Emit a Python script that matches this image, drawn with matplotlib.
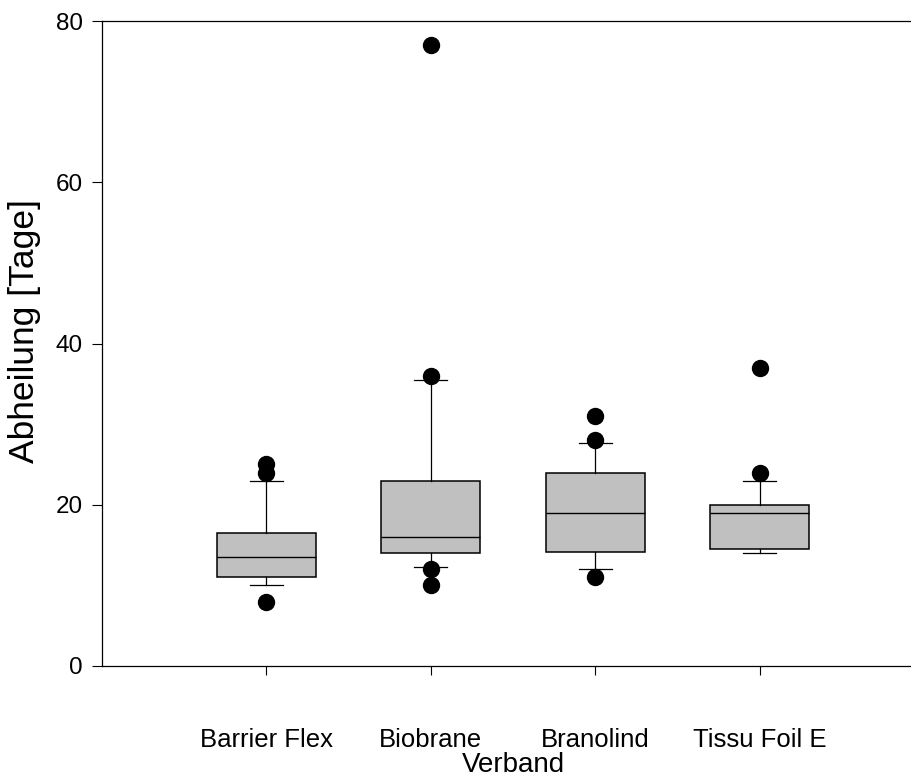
import matplotlib.pyplot as plt

plt.rcParams['font.family'] = ['Liberation Sans', 'DejaVu Sans']

# Box plot values (10th/90th percentile whiskers)
dressings = ["Barrier Flex", "Biobrane", "Branolind", "Tissu Foil E"]
whisker_low = [10.0, 12.3, 12.0, 14.0]
q1 = [11.0, 14.0, 14.2, 14.5]
medians = [13.5, 16.0, 19.0, 19.0]
q3 = [16.5, 23.0, 24.0, 20.0]
whisker_high = [23.0, 35.5, 27.6, 23.0]
outliers = [
    [25.0, 24.0, 8.0],
    [77.0, 36.0, 12.0, 10.0],
    [31.0, 28.0, 11.0],
    [37.0, 24.0],
]

stats = []
for i, name in enumerate(dressings):
    stats.append({
        "label": name,
        "whislo": whisker_low[i],
        "q1": q1[i],
        "med": medians[i],
        "q3": q3[i],
        "whishi": whisker_high[i],
        "fliers": outliers[i],
    })

fig = plt.figure(figsize=(9.12, 7.78), dpi=100)
ax = fig.add_axes([102 / 912, 1 - 666 / 778, 822 / 912, 645 / 778])

positions = [1, 2, 3, 4]
ax.bxp(
    stats,
    positions=positions,
    widths=0.6,
    capwidths=0.2,
    patch_artist=True,
    boxprops=dict(facecolor="#c0c0c0", edgecolor="black", linewidth=1.1),
    medianprops=dict(color="black", linewidth=1.0),
    whiskerprops=dict(color="black", linewidth=0.9),
    capprops=dict(color="black", linewidth=0.9),
    flierprops=dict(marker="o", markerfacecolor="black", markeredgecolor="black",
                    markersize=11.5, linestyle="none"),
)

ax.set_xlim(0, 5)
ax.set_ylim(0, 80)
ax.set_yticks([0, 20, 40, 60, 80])
ax.set_xticks(positions)
ax.set_xticklabels(dressings, fontsize=18.5)
ax.tick_params(axis="y", labelsize=17.5, length=7, width=0.8, pad=7, direction="out")
ax.tick_params(axis="x", length=6.5, width=0.8, pad=38, direction="out")

ax.spines["right"].set_visible(False)
for side in ["left", "bottom", "top"]:
    ax.spines[side].set_linewidth(0.9)

ax.set_ylabel("Abheilung [Tage]", fontsize=25.5)
ax.yaxis.set_label_coords(-0.074, 0.52)
ax.set_xlabel("Verband", fontsize=20, labelpad=0,
              bbox=dict(facecolor="white", edgecolor="none", pad=3))

fig.savefig("out.png", dpi=100)
